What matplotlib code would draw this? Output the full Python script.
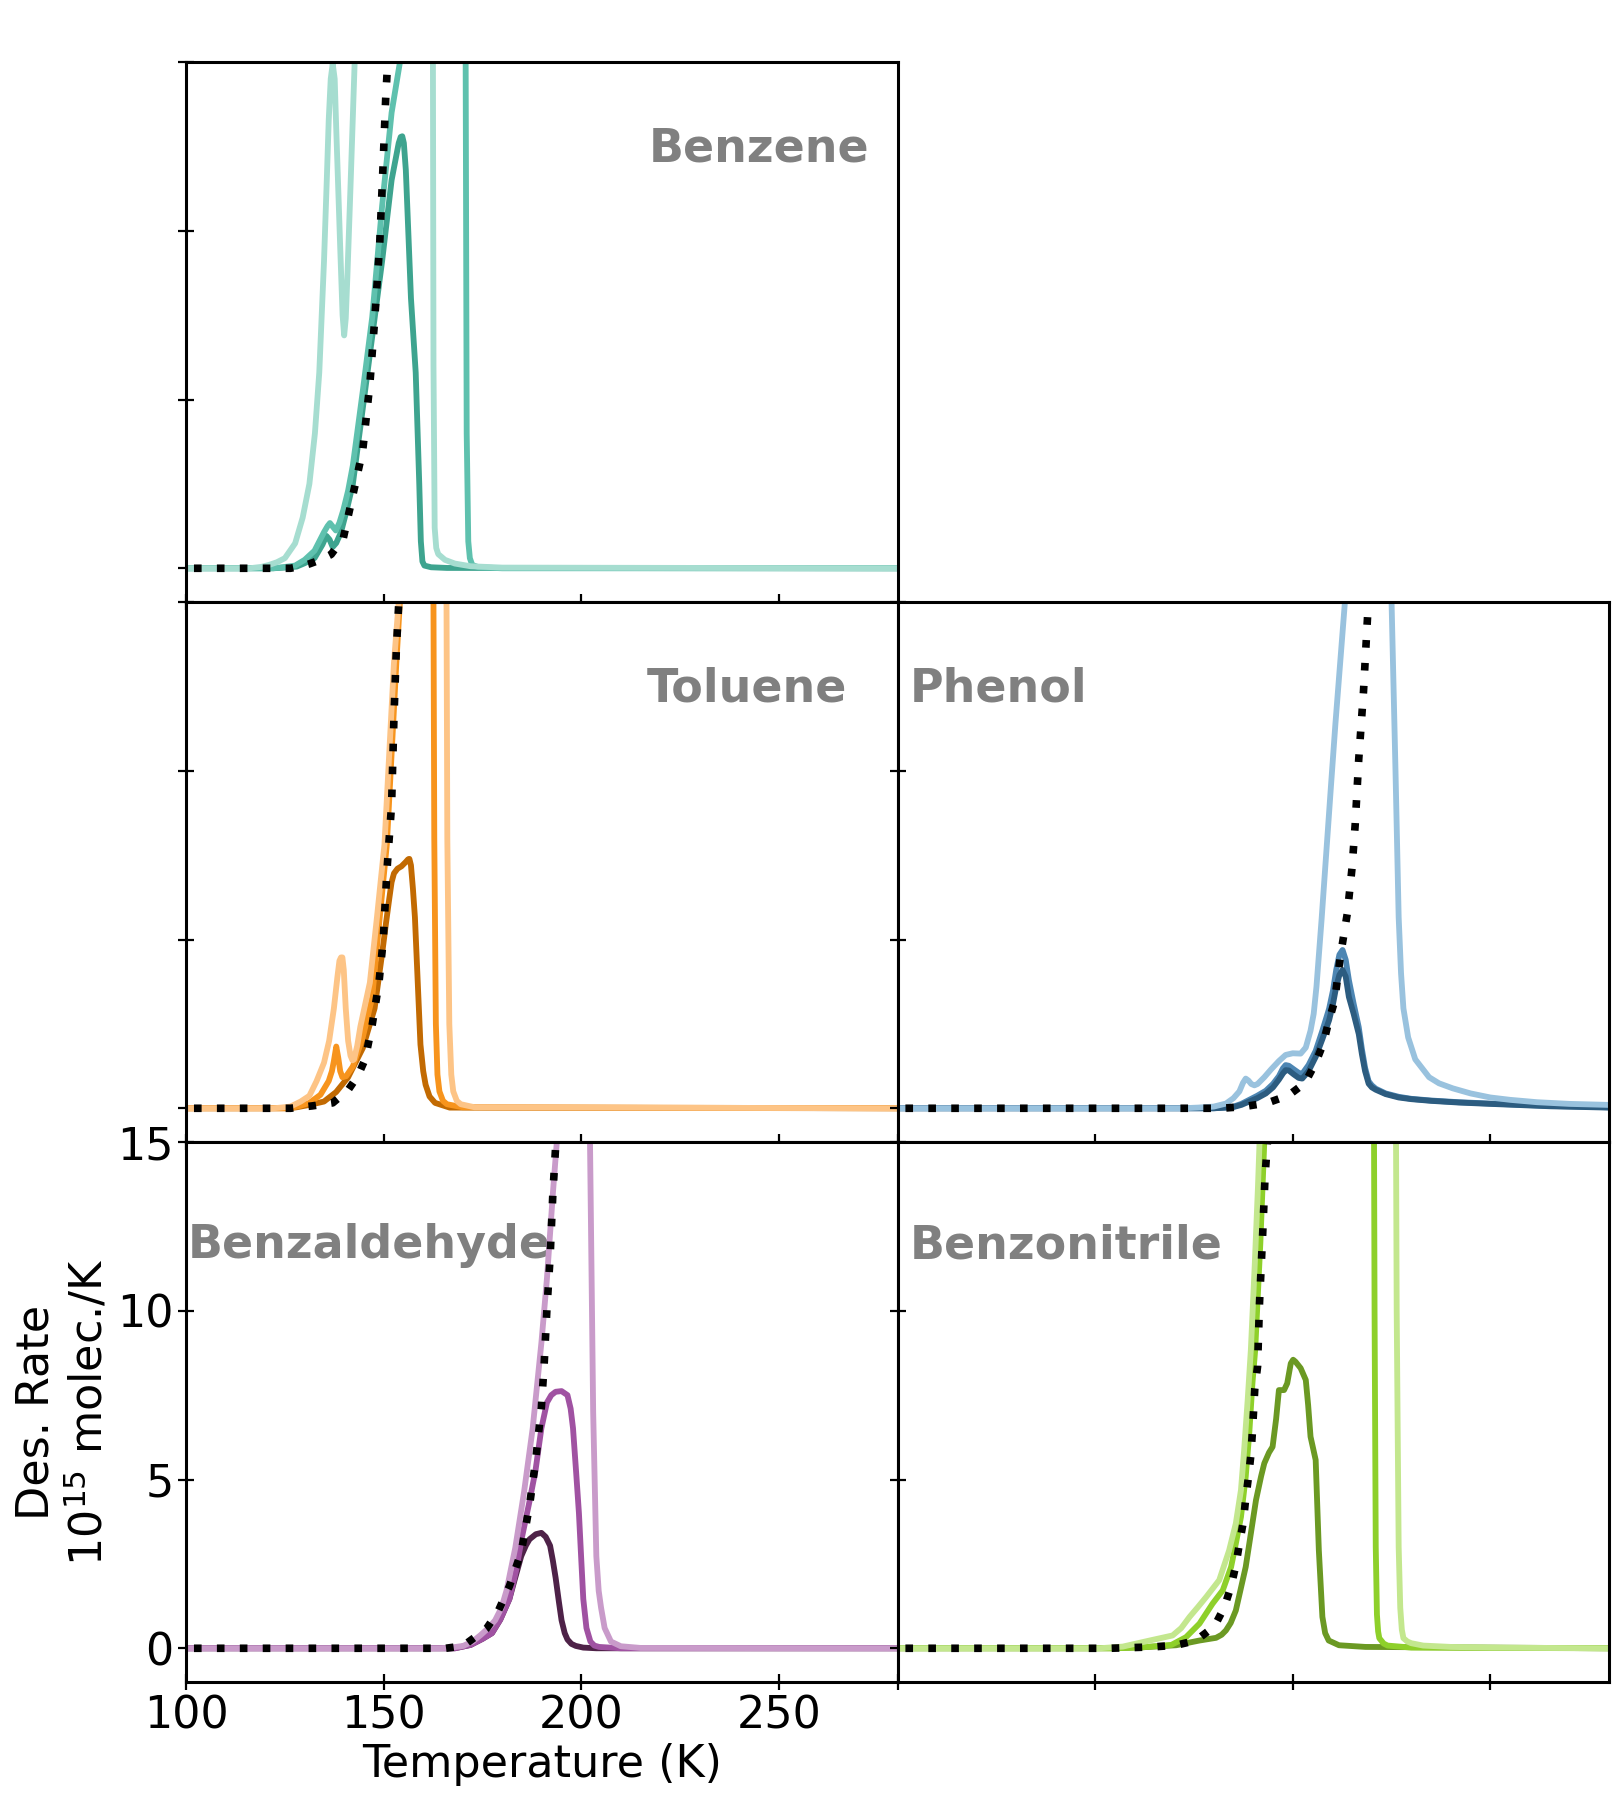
import matplotlib
matplotlib.use("Agg")
import matplotlib.pyplot as plt

# ---------------------------------------------------------------
# Data (temperature in K, rate in 1e15 molec./K)
# ---------------------------------------------------------------

# Benzene
bz_light_T = [100, 116, 119, 121, 123, 125, 127.6, 129.5, 131.2, 132.6, 133.7, 134.9, 135.6, 136.1, 136.6, 137.1,
              137.6, 138.0, 139.0, 139.6, 140.0, 140.4, 140.8, 141.6, 142.8, 144.0, 162.3, 162.6, 162.9, 163.3,
              163.8, 165.5, 168, 172, 180, 280]
bz_light_r = [0, 0, 0.04, 0.1, 0.18, 0.3, 0.74, 1.5, 2.5, 4.0, 5.8, 9.1, 11.5, 13.3, 14.5, 14.95,
              14.5, 13.0, 9.5, 7.5, 6.9, 7.4, 8.6, 11.3, 15.5, 25, 25, 6, 1.2, 0.6,
              0.42, 0.25, 0.14, 0.06, 0.02, 0]
bz_mid_T = [100, 122, 125, 127.6, 130, 132.5, 134.9, 135.8, 136.4, 137.0, 137.9, 138.8, 139.8, 141, 142.2,
            144.7, 147.1, 149.6, 152.0, 154.4, 156, 170.5, 171.0, 171.4, 171.8, 172.4, 174, 180, 280]
bz_mid_r = [0, 0, 0.04, 0.08, 0.25, 0.52, 1.07, 1.25, 1.34, 1.25, 1.12, 1.35, 1.73, 2.3, 3.05,
            5.24, 7.44, 10.73, 13.5, 15.2, 25, 25, 4, 0.8, 0.3, 0.1, 0.03, 0.0, 0]
bz_dark_T = [100, 122, 125, 128, 130, 132.5, 134.5, 135.5, 136.3, 137.1, 138.0, 139.2, 140.6, 142.2, 145.9,
             149.6, 152.0, 153.8, 154.3, 154.7, 155.1, 155.6, 156.9, 158.1, 159.0, 159.4, 159.8, 160.3, 162,
             166, 280]
bz_dark_r = [0, 0, 0.02, 0.05, 0.15, 0.3, 0.7, 0.96, 0.85, 0.63, 0.75, 1.07, 1.7, 2.5, 5.8,
             9.1, 11.5, 12.6, 12.78, 12.8, 12.6, 11.8, 8.0, 5.8, 2.5, 0.8, 0.2, 0.08, 0.03,
             0.01, 0]
bz_fit_T = [102, 126.4, 129, 131.2, 134, 136.7, 139.8, 142.2, 144.7, 146.5, 147.7, 149.0, 149.8, 150.5, 151.0, 151.5]
bz_fit_r = [0, 0, 0.06, 0.13, 0.25, 0.41, 0.9, 2.17, 3.5, 5.46, 7.33, 9.63, 11.83, 13.9, 15.0, 16.5]

# Toluene
to_light_T = [100, 122, 124, 126.4, 129, 131.2, 133, 134.9, 136.2, 137.4, 138.3, 138.8, 139.2, 139.55, 139.9,
              140.4, 141.0, 141.6, 142.1, 142.5, 143.3, 144.1, 146.5, 148.3, 150.2, 151.4, 152.6, 153.8, 155,
              165.6, 166.1, 166.6, 167.1, 167.6, 168.5, 169.5, 173, 280]
to_light_r = [0, 0, 0.02, 0.05, 0.2, 0.37, 0.8, 1.35, 2.0, 2.96, 3.9, 4.37, 4.47, 4.47, 4.1,
              2.96, 2.0, 1.56, 1.42, 1.45, 1.85, 2.42, 3.72, 5.66, 7.82, 10.5, 13.2, 15.0, 25,
              25, 8, 2.5, 1.0, 0.5, 0.22, 0.12, 0.03, 0]
to_mid_T = [100, 126, 128.5, 131.2, 134, 136.1, 136.9, 137.4, 138.0, 138.5, 139.0, 139.55, 140.5, 142.2, 144.7,
            147.1, 149.0, 150.8, 152.0, 153.2, 154.2, 155.5, 162.3, 162.8, 163.2, 163.6, 164.1, 165, 166, 170,
            280]
to_mid_r = [0, 0, 0.06, 0.16, 0.4, 0.81, 1.1, 1.4, 1.83, 1.5, 1.1, 0.92, 0.95, 1.24, 2.1,
            3.29, 5.66, 7.82, 10.5, 13.2, 15.2, 25, 25, 8, 2.5, 1.0, 0.5, 0.22, 0.12, 0.03,
            0]
to_dark_T = [100, 126, 128, 131.2, 134.9, 137.96, 141.0, 144.7, 147.7, 149.6, 150.6, 151.4, 152.0, 152.6, 153.5,
             154.5, 155.6, 156.2, 156.5, 156.9, 157.4, 157.9, 158.7, 159.3, 160.0, 160.6, 161.6, 163.0, 166.7,
             280]
to_dark_r = [0, 0, 0.03, 0.1, 0.2, 0.48, 0.92, 1.78, 2.96, 4.58, 5.5, 6.2, 6.7, 6.96, 7.1,
             7.17, 7.3, 7.38, 7.39, 7.2, 6.5, 5.66, 3.5, 1.89, 1.1, 0.7, 0.35, 0.16, 0.02,
             0]
to_fit_T = [102, 126.4, 131.9, 137.1, 141.0, 143.5, 145.3, 147.1, 148.8, 149.9, 150.8, 152.0, 152.6, 153.2, 153.8, 154.4]
to_fit_r = [0, 0, 0.07, 0.16, 0.54, 0.97, 1.45, 2.48, 3.72, 5.01, 7.01, 9.0, 11.6, 13.6, 14.94, 16.5]

# Phenol
ph_light_T = [100, 172, 176, 180, 183.1, 185, 186.5, 187.4, 188.1, 188.8, 189.5, 190.3, 191.1, 192.8, 194.5,
              196.5, 198.2, 200, 202.0, 203.3, 204.5, 205.3, 206.0, 207.3, 208.5, 209.7, 210.8, 212.0, 213.2,
              214.5, 224.3, 225.0, 225.5, 226.0, 226.8, 227.4, 228.0, 229.2, 231.0, 234.5, 237, 240.5, 245,
              250, 255, 261.8, 270, 280]
ph_light_r = [0, 0, 0.02, 0.05, 0.14, 0.3, 0.5, 0.75, 0.88, 0.82, 0.72, 0.68, 0.72, 0.92, 1.15,
              1.4, 1.58, 1.63, 1.62, 1.8, 2.3, 2.8, 3.6, 5.6, 7.6, 9.6, 11.4, 13.2, 15.0,
              20, 20, 15.0, 12.5, 9.98, 5.66, 4.0, 2.96, 2.1, 1.45, 0.92, 0.74, 0.59, 0.44,
              0.32, 0.25, 0.18, 0.13, 0.1]
ph_mid_T = [100, 180, 184.8, 187, 189, 191, 193.2, 195, 196.5, 197.5, 198.2, 199, 200.3, 201.5, 202.4,
            204, 205.8, 207.5, 209.2, 210.2, 211.0, 211.8, 212.6, 213.4, 214.2, 215.4, 216.7, 217.5, 218.3,
            219.2, 220, 221, 223.5, 226.8, 230, 235, 242, 250, 265, 280]
ph_mid_r = [0, 0, 0.04, 0.13, 0.25, 0.37, 0.52, 0.72, 0.95, 1.18, 1.28, 1.26, 1.15, 1.05, 1.02,
            1.28, 1.7, 2.3, 2.95, 3.5, 4.1, 4.55, 4.69, 4.4, 3.8, 3.1, 2.4, 1.75, 1.2,
            0.8, 0.68, 0.58, 0.44, 0.34, 0.28, 0.23, 0.18, 0.14, 0.07, 0.03]
ph_dark_T = [100, 180, 184.8, 187, 189, 191, 193.2, 195, 196.5, 197.5, 198.2, 199, 200.3, 201.5, 202.4,
             204, 205.8, 207.5, 209.2, 210.2, 211.0, 211.8, 212.6, 213.4, 214.2, 215.4, 216.7, 217.5, 218.3,
             219.2, 220, 221, 223.5, 226.8, 230, 235, 242, 250, 265, 280]
ph_dark_r = [0, 0, 0.03, 0.1, 0.2, 0.3, 0.44, 0.62, 0.85, 1.03, 1.13, 1.12, 1.0, 0.9, 0.88,
             1.1, 1.52, 2.05, 2.61, 3.1, 3.6, 3.95, 4.1, 3.9, 3.3, 2.8, 2.2, 1.6, 1.1,
             0.73, 0.62, 0.55, 0.42, 0.32, 0.27, 0.22, 0.17, 0.13, 0.06, 0.02]
ph_fit_T = [102, 182, 187.7, 193.6, 198.9, 203.1, 205.8, 207.8, 209.0, 210.6, 212.0, 213.8, 215.0, 215.8, 216.7,
            217.9, 219.1, 219.8]
ph_fit_r = [0, 0, 0.05, 0.16, 0.38, 0.75, 1.35, 1.94, 2.53, 3.18, 4.47, 5.77, 7.12, 8.41, 10.35,
            12.35, 14.94, 16.5]

# Benzaldehyde
ba_light_T = [100, 164, 167, 170.1, 172.5, 174.5, 176.5, 178.2, 179.8, 181.1, 183.3, 185.5, 187.7, 189.9, 191.3,
              192.8, 193.8, 195, 201.8, 202.2, 203.0, 203.8, 204.4, 205.0, 205.9, 207.5, 210, 215, 280]
ba_light_r = [0, 0, 0.02, 0.07, 0.2, 0.39, 0.6, 0.83, 1.2, 1.72, 2.98, 4.62, 6.52, 9.05, 10.95,
              13.47, 15.0, 25, 25, 15.0, 7.0, 2.73, 1.7, 1.2, 0.6, 0.2, 0.06, 0.01, 0]
ba_mid_T = [100, 168, 172, 175, 177.4, 179.5, 181.8, 183.5, 185.0, 186.8, 188.4, 189.9, 191.3, 192.4, 193.5,
            195.0, 196.5, 197.3, 197.9, 198.7, 199.4, 200.0, 200.5, 201.3, 202.3, 203.3, 204.5, 210, 280]
ba_mid_r = [0, 0, 0.1, 0.28, 0.45, 0.85, 1.46, 2.3, 3.3, 4.3, 5.26, 6.52, 7.28, 7.5, 7.6,
            7.62, 7.5, 7.1, 6.52, 5.2, 4.0, 2.6, 1.46, 0.6, 0.2, 0.08, 0.04, 0.0, 0]
ba_dark_T = [100, 168, 172, 175, 177.4, 179.5, 181.8, 183.3, 184.8, 186.0, 186.9, 188.5, 189.9, 191.0, 192.1,
             192.8, 193.5, 194.3, 195.0, 195.8, 196.5, 197.5, 198.6, 200.5, 203.8, 280]
ba_dark_r = [0, 0, 0.1, 0.28, 0.45, 0.85, 1.46, 2.1, 2.73, 3.05, 3.23, 3.38, 3.42, 3.3, 3.04,
             2.6, 2.09, 1.4, 0.83, 0.45, 0.26, 0.13, 0.07, 0.02, 0.0, 0]
ba_fit_T = [102, 165.7, 170.1, 176.0, 178.9, 181.8, 184.8, 186.9, 188.4, 189.9, 190.6, 191.3, 192.1, 192.8, 193.5, 194.2]
ba_fit_r = [0, 0, 0.07, 0.58, 1.08, 1.84, 2.85, 4.24, 5.51, 7.15, 8.42, 10.06, 11.58, 13.47, 14.86, 16.5]

# Benzonitrile
bn_light_T = [100, 151, 157, 163.8, 169.6, 171.8, 173.9, 176, 178.1, 181.4, 183.9, 185.6, 186.9, 187.7, 188.6,
              189.4, 190.4, 191.2, 191.6, 192.5, 225.8, 226.3, 226.8, 227.2, 227.6, 228.0, 229, 230, 233,
              240, 250, 280]
bn_light_r = [0, 0, 0.05, 0.23, 0.38, 0.6, 0.93, 1.22, 1.52, 2.02, 2.9, 3.7, 4.69, 5.87, 7.36,
              8.84, 11.4, 13.67, 15.0, 25, 25, 10, 3.0, 1.2, 0.55, 0.3, 0.2, 0.15, 0.08,
              0.04, 0.02, 0]
bn_mid_T = [100, 155, 162, 169.3, 173.0, 176.4, 179.7, 182.3, 184.4, 185.6, 186.9, 188.1, 189.0, 189.8, 190.5,
            191.8, 192.8, 193.5, 220.3, 220.7, 221.0, 221.3, 221.6, 221.9, 223, 224, 230, 280]
bn_mid_r = [0, 0, 0.03, 0.1, 0.33, 0.73, 1.32, 1.72, 2.41, 3.1, 3.89, 5.08, 6.37, 7.85, 8.84,
            12.0, 15.0, 25, 25, 10, 3.0, 1.0, 0.5, 0.3, 0.14, 0.08, 0.02, 0]
bn_dark_T = [100, 155, 162, 170.5, 176.4, 180.6, 182.0, 183.1, 184.3, 185.6, 188.1, 190.7, 192.0, 192.8, 194.0,
             194.9, 195.8, 196.5, 197.8, 198.6, 199.5, 200.1, 200.7, 202.0, 203.3, 203.9, 204.5, 205.8, 206.6,
             207.5, 208.2, 209.1, 211.7, 218.4, 280]
bn_dark_r = [0, 0, 0.03, 0.09, 0.23, 0.31, 0.4, 0.53, 0.75, 1.12, 2.41, 4.39, 5.1, 5.48, 5.8,
             5.97, 6.8, 7.65, 7.65, 7.85, 8.44, 8.55, 8.49, 8.3, 7.95, 7.2, 6.27, 5.58, 2.91,
             0.93, 0.45, 0.23, 0.09, 0.04, 0]
bn_fit_T = [102, 153.7, 164.6, 170.5, 175.5, 180.2, 182.7, 184.4, 185.6, 186.5, 187.5, 188.1, 188.8, 189.4, 189.8,
            190.1, 190.4, 191.1, 191.6, 192.4, 193.0, 193.6, 194.2]
bn_fit_r = [0, 0, 0.04, 0.09, 0.23, 0.65, 1.22, 1.84, 2.46, 3.1, 3.75, 4.44, 5.08, 5.72, 6.42,
            7.06, 7.7, 8.35, 10.26, 12.3, 14.0, 15.0, 16.5]

x_ticks = [100, 150, 200, 250]
y_ticks = [0, 5, 10, 15]

FS = 32

# ---------------------------------------------------------------
# Figure: 3x2 grid, no gaps, top-right panel left empty
# ---------------------------------------------------------------
fig, axes = plt.subplots(3, 2, figsize=(16.18, 17.98), dpi=100, sharex=True, sharey=True)
fig.subplots_adjust(left=0.115, right=0.9944, top=0.9655, bottom=0.0645, hspace=0, wspace=0)
axes[0, 1].remove()

panels = [
    (axes[0, 0], "Benzene", 217.0, 12.05,
     [(bz_dark_T, bz_dark_r, "#3ea48f"), (bz_mid_T, bz_mid_r, "#5fc1ae"), (bz_light_T, bz_light_r, "#a6ddd0")],
     (bz_fit_T, bz_fit_r)),
    (axes[1, 0], "Toluene", 216.5, 12.05,
     [(to_dark_T, to_dark_r, "#c26a02"), (to_mid_T, to_mid_r, "#f7941d"), (to_light_T, to_light_r, "#fdc486")],
     (to_fit_T, to_fit_r)),
    (axes[1, 1], "Phenol", 103.0, 12.05,
     [(ph_mid_T, ph_mid_r, "#4d86b3"), (ph_dark_T, ph_dark_r, "#2c5c80"), (ph_light_T, ph_light_r, "#99c2de")],
     (ph_fit_T, ph_fit_r)),
    (axes[2, 0], "Benzaldehyde", 100.5, 11.55,
     [(ba_dark_T, ba_dark_r, "#4e2248"), (ba_mid_T, ba_mid_r, "#a052a2"), (ba_light_T, ba_light_r, "#c99bca")],
     (ba_fit_T, ba_fit_r)),
    (axes[2, 1], "Benzonitrile", 103.0, 11.55,
     [(bn_dark_T, bn_dark_r, "#6b9923"), (bn_mid_T, bn_mid_r, "#8ed02a"), (bn_light_T, bn_light_r, "#c3e78e")],
     (bn_fit_T, bn_fit_r)),
]

for ax, name, tx, ty, curves, fit in panels:
    for T, r, col in curves:
        ax.plot(T, r, color=col, lw=4.2, zorder=2)
    ax.plot(fit[0], fit[1], color="black", lw=5.5, linestyle=(0, (1, 2.0)), zorder=3)
    ax.text(tx, ty, name, fontsize=33, fontweight="bold", color="#808080",
            ha="left", va="baseline", zorder=1)

    ax.set_xlim(100, 280)
    ax.set_ylim(-1, 15)
    ax.set_xticks(x_ticks)
    ax.set_yticks(y_ticks)
    ax.tick_params(direction="inout", length=11, width=1.6, labelsize=FS, top=False, right=False)
    for sp in ax.spines.values():
        sp.set_linewidth(2.2)

# only the bottom-left panel carries tick labels
for ax in (axes[0, 0], axes[1, 0], axes[1, 1], axes[2, 1]):
    ax.tick_params(labelbottom=False, labelleft=False)

axes[2, 0].set_xlabel("Temperature (K)", fontsize=FS)
axes[2, 0].set_ylabel("Des. Rate\n$10^{15}$ molec./K", fontsize=FS)

fig.savefig("out.png", dpi=100)
